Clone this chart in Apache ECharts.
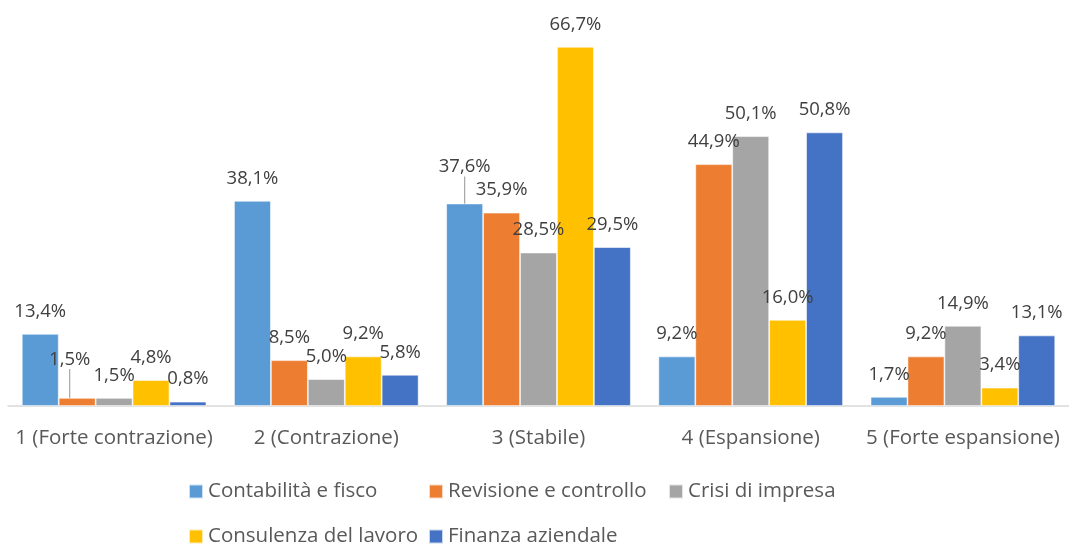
<!DOCTYPE html>
<html>
<head>
<meta charset="utf-8">
<script src="https://cdn.jsdelivr.net/npm/echarts@6/dist/echarts.min.js"></script>
<style>
  html, body { margin: 0; padding: 0; background: #ffffff; }
  #chart { width: 1069px; height: 547px; }
</style>
</head>
<body>
<div id="chart"></div>
<script>
// ---- Data ----
const categories = ['1 (Forte contrazione)', '2 (Contrazione)', '3 (Stabile)', '4 (Espansione)', '5 (Forte espansione)'];
const seriesNames = ['Contabilità e fisco', 'Revisione e controllo', 'Crisi di impresa', 'Consulenza del lavoro', 'Finanza aziendale'];
const contabilita = [13.4, 38.1, 37.6, 9.2, 1.7];
const revisione = [1.5, 8.5, 35.9, 44.9, 9.2];
const crisi = [1.5, 5.0, 28.5, 50.1, 14.9];
const consulenza = [4.8, 9.2, 66.7, 16.0, 3.4];
const finanza = [0.8, 5.8, 29.5, 50.8, 13.1];
const seriesValues = [contabilita, revisione, crisi, consulenza, finanza];

// ---- Styling / layout ----
const colors = ['#5B9BD5', '#ED7D31', '#A5A5A5', '#FFC000', '#4472C4'];
const FONT = '"Open Sans", "Noto Sans", sans-serif';
// labels that were moved by hand in the original (with leader line)
const labelNudges = [
  { series: 1, index: 0, dx: -7.5, dy: -16 },
  { series: 0, index: 2, dx: 0, dy: -14 }
];
function nudgeFor(s, i) {
  return labelNudges.find(n => n.series === s && n.index === i);
}
const legendPos = [
  { left: 188, top: 481 },
  { left: 428, top: 481 },
  { left: 668, top: 481 },
  { left: 188, top: 526 },
  { left: 428, top: 526 }
];

const chart = echarts.init(document.getElementById('chart'), null, { renderer: 'canvas' });

const series = seriesValues.map((vals, s) => ({
  name: seriesNames[s],
  type: 'bar',
  barGap: '0%',
  barCategoryGap: '13%',
  itemStyle: { color: colors[s], borderColor: 'rgba(255,255,255,0.7)', borderWidth: 0.8 },
  label: {
    show: true,
    position: 'top',
    distance: 13,
    fontFamily: FONT,
    fontSize: 18.5,
    color: '#404040',
    formatter: p => p.value.toFixed(1).replace('.', ',') + '%'
  },
  labelLine: { show: false },
  labelLayout: function (params) {
    const n = nudgeFor(params.seriesIndex, params.dataIndex);
    return n ? { dx: n.dx, dy: n.dy } : {};
  },
  data: vals.map((v, i) => {
    const n = nudgeFor(s, i);
    if (n) {
      return { value: v, labelLine: { show: true, lineStyle: { color: '#A6A6A6', width: 1.2 } } };
    }
    return v;
  })
}));

const legends = seriesNames.map((name, s) => ({
  show: true,
  data: [name],
  left: legendPos[s].left,
  top: legendPos[s].top,
  padding: 0,
  itemWidth: 14,
  itemHeight: 14,
  icon: 'rect',
  selectedMode: false,
  textStyle: { fontFamily: FONT, fontSize: 20.5, color: '#595959' }
}));

chart.setOption({
  animation: false,
  color: colors,
  legend: legends,
  grid: { left: 8, top: 29, width: 1063, height: 377, containLabel: false },
  xAxis: {
    type: 'category',
    data: categories,
    axisTick: { show: false },
    axisLine: { show: true, lineStyle: { color: '#D9D9D9', width: 1.5 } },
    axisLabel: { fontFamily: FONT, fontSize: 20.5, color: '#595959', margin: 22, interval: 0 }
  },
  yAxis: {
    type: 'value',
    min: 0,
    max: 70,
    show: false,
    splitLine: { show: false }
  },
  series: series
});
</script>
</body>
</html>
